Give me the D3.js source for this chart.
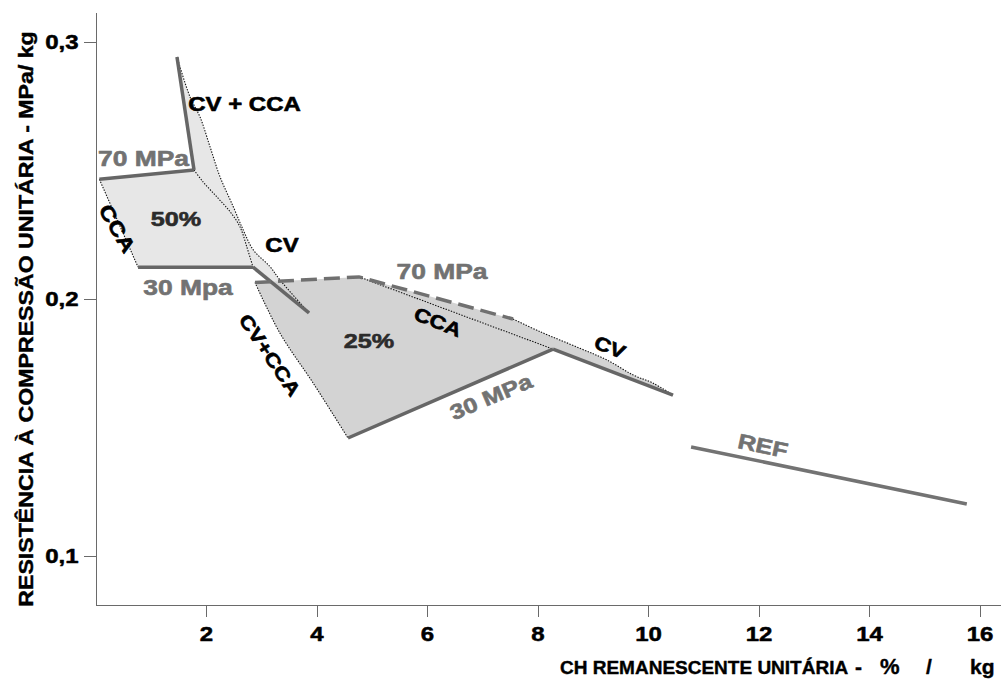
<!DOCTYPE html>
<html>
<head>
<meta charset="utf-8">
<script src="https://cdn.jsdelivr.net/npm/d3@7"></script>
<style>
  html, body { margin: 0; padding: 0; background: #fff; }
  svg { display: block; }
  text { font-family: "Liberation Sans", Arial, Helvetica, sans-serif; font-weight: bold; }
</style>
</head>
<body>
<svg id="chart" width="1001" height="679"></svg>
<script>
// Axis ticks
const xTicks = [2, 4, 6, 8, 10, 12, 14, 16];
const yTicks = [0.1, 0.2, 0.3];

// ---- 50 % replacement (x: CH remaining %/kg, y: strength MPa/kg) ----
const line50Mpa70   = [[0.07, 0.2466], [1.783, 0.2502]];
const line50Mpa30   = [[0.77, 0.2124], [2.851, 0.2124]];
const line50CvCca   = [[1.475, 0.2942], [1.783, 0.2502]];
const line50Cv      = [[2.851, 0.2124], [3.864, 0.1946]];
const edge50Cca     = [[0.07, 0.2466], [0.77, 0.2124]];
const edge50Inner   = [[1.783, 0.2502], [1.946, 0.2456], [2.194, 0.2398], [2.434, 0.2340],
                       [2.615, 0.2281], [2.737, 0.2204], [2.851, 0.2124]];
const edge50Outer   = [[1.475, 0.2942], [1.710, 0.2787], [1.891, 0.2709], [2.072, 0.2593],
                       [2.253, 0.2476], [2.494, 0.2359], [2.675, 0.2268], [2.856, 0.2191],
                       [3.158, 0.2126], [3.339, 0.2074], [3.864, 0.1946]];

// ---- 25 % replacement ----
const line25Mpa70   = [[2.887, 0.2064], [4.769, 0.2086], [7.557, 0.1922]];
const line25Mpa30   = [[4.570, 0.1459], [8.281, 0.1805]];
const line25Cv      = [[8.281, 0.1805], [10.452, 0.1626]];
const edge25CvCca   = [[2.887, 0.2064], [3.339, 0.1867], [3.942, 0.1672], [4.570, 0.1459]];
const edge25Cca     = [[4.769, 0.2086], [8.281, 0.1805]];
const edge25Cv      = [[7.557, 0.1922], [8.045, 0.1873], [8.769, 0.1808], [9.253, 0.1763],
                       [9.734, 0.1704], [10.096, 0.1672], [10.452, 0.1626]];

// ---- reference mix ----
const lineRef       = [[10.78, 0.1424], [15.77, 0.1202]];

// Annotations anchored in data units
const annotations = [
  { text: "CV + CCA", x: 2.697, y: 0.2757, angle: 0,   size: 20, tone: "ink" },
  { text: "70 MPa",   x: 0.869, y: 0.2549, angle: 0,   size: 22, tone: "grey" },
  { text: "50%",      x: 1.457, y: 0.2313, angle: 0,   size: 21, tone: "dark" },
  { text: "CCA",      x: 0.389, y: 0.2274, angle: 60,  size: 20, tone: "ink" },
  { text: "CV",       x: 3.376, y: 0.2208, angle: 0,   size: 20, tone: "ink" },
  { text: "30 Mpa",   x: 1.674, y: 0.2047, angle: 0,   size: 22, tone: "grey" },
  { text: "70 MPa",   x: 6.271, y: 0.2109, angle: 0,   size: 22, tone: "grey" },
  { text: "CV+CCA",   x: 3.158, y: 0.1782, angle: 56,  size: 19, tone: "ink" },
  { text: "25%",      x: 4.950, y: 0.1837, angle: 0,   size: 21, tone: "dark" },
  { text: "CCA",      x: 6.199, y: 0.1911, angle: 22,  size: 19, tone: "ink" },
  { text: "CV",       x: 9.312, y: 0.1813, angle: 22,  size: 19, tone: "ink" },
  { text: "30 MPa",   x: 7.158, y: 0.1619, angle: -23, size: 21, tone: "grey" },
  { text: "REF",      x: 12.08, y: 0.1428, angle: 12,  size: 21, tone: "grey" }
];

const xTitleMain = "CH REMANESCENTE UNITÁRIA";
const xTitleUnit = ["-", "%", "/", "kg"];
const yTitle = "RESISTÊNCIA À COMPRESSÃO UNITÁRIA - MPa/ kg";

// ---------------- drawing ----------------
const STRETCH = 1.2;
const tones = { ink: "#000", dark: "#2b2b2b", grey: "#727272" };
const markColor = "#666";

const svg = d3.select("#chart");
const x = d3.scaleLinear().domain([0, 16.38]).range([95.5, 1000.5]);
const y = d3.scaleLinear().domain([0.0809, 0.3117]).range([605, 12]);

const straight = d3.line().x(d => x(d[0])).y(d => y(d[1]));
const smooth = d3.line().x(d => x(d[0])).y(d => y(d[1])).curve(d3.curveCatmullRom.alpha(0.5));
const cont = p => "L" + p.slice(1);            // continue a path instead of moving
const rev = a => a.slice().reverse();

// heavier text rendering
const heavy = (sel, color, w) => sel.attr("fill", color).attr("stroke", color)
  .attr("stroke-width", w).attr("paint-order", "stroke").attr("stroke-linejoin", "round");

// fills
const gFill = svg.append("g");
gFill.append("path")   // CV + CCA and CV bands of the 50 % group
  .attr("d", smooth(edge50Outer) + cont(straight(rev(line50Cv))) + cont(smooth(rev(edge50Inner))) + "Z")
  .attr("fill", "#e7e7e7");
gFill.append("path")   // 50 % area
  .attr("d", smooth(edge50Inner) + cont(straight([line50Mpa30[0], edge50Cca[0]])) + "Z")
  .attr("fill", "#e7e7e7");
gFill.append("path")   // 25 % area
  .attr("d", straight(line25Mpa70) + cont(smooth(edge25Cv)) + cont(straight(rev(line25Cv).concat([line25Mpa30[0]])))
        + cont(smooth(rev(edge25CvCca))) + "Z")
  .attr("fill", "#d3d3d3");

// dotted outlines
const gDots = svg.append("g").attr("fill", "none").attr("stroke", "#111")
  .attr("stroke-width", 1.1).attr("stroke-dasharray", "1.4,1.4");
[edge50Cca, edge25Cca].forEach(d => gDots.append("path").attr("d", straight(d)));
[edge50Inner, edge50Outer, edge25CvCca, edge25Cv].forEach(d => gDots.append("path").attr("d", smooth(d)));

// solid strength lines
const gLines = svg.append("g").attr("fill", "none").attr("stroke", markColor)
  .attr("stroke-width", 3.5).attr("stroke-linecap", "butt");
[line50Mpa70, line50Mpa30, line50CvCca, line50Cv, line25Mpa30, line25Cv]
  .forEach(d => gLines.append("path").attr("d", straight(d)));
gLines.append("path").attr("d", straight(lineRef)).attr("stroke", "#737373");
gLines.append("path").attr("d", straight(line25Mpa70)).attr("stroke", "#707070")
  .attr("stroke-dasharray", "16,7");

// axes
const fmt = d => d3.format(".1f")(d).replace(".", ",");
const axColor = "#6a6a6a";
const gx = svg.append("g").attr("transform", `translate(0,605)`)
  .call(d3.axisBottom(x).tickValues(xTicks).tickSize(12).tickSizeOuter(0).tickPadding(10));
const gy = svg.append("g").attr("transform", `translate(95.5,0)`)
  .call(d3.axisLeft(y).tickValues(yTicks).tickFormat(fmt).tickSize(12).tickSizeOuter(0).tickPadding(5));
[gx, gy].forEach(g => {
  g.selectAll("path, line").attr("stroke", axColor).attr("shape-rendering", "crispEdges");
  g.selectAll("text").style("font-size", "20px")
    .style("font-family", '"Liberation Sans", Arial, sans-serif').style("font-weight", "bold")
    .call(heavy, "#000", 0.5);
});
gx.selectAll("text").attr("transform", `scale(${STRETCH},1)`);
gy.selectAll("text").attr("x", -17 / STRETCH).attr("transform", `scale(${STRETCH},1)`);

// axis titles
svg.append("text")
  .attr("x", 560).attr("y", 674)
  .style("font-size", "19px").call(heavy, "#000", 0.4).text(xTitleMain);
const unitX = [855, 880, 926, 970];
svg.append("text").attr("y", 674).style("font-size", "20px").call(heavy, "#000", 0.4)
  .selectAll("tspan").data(xTitleUnit).join("tspan")
  .attr("x", (d, i) => unitX[i])
  .style("font-size", (d, i) => (i === 1 ? "22px" : "21px"))
  .text(d => d);
svg.append("text")
  .attr("transform", `translate(33,319) rotate(-90) scale(${STRETCH},1)`)
  .attr("text-anchor", "middle").style("font-size", "19.3px").call(heavy, "#000", 0.4).text(yTitle);

// annotations
const gAnn = svg.append("g");
annotations.forEach(a => {
  gAnn.append("text")
    .attr("transform", `translate(${x(a.x)},${y(a.y)}) rotate(${a.angle}) scale(${STRETCH},1)`)
    .attr("text-anchor", "middle").attr("dominant-baseline", "central")
    .style("font-size", a.size + "px").call(heavy, tones[a.tone], 0.6).text(a.text);
});
</script>
</body>
</html>
